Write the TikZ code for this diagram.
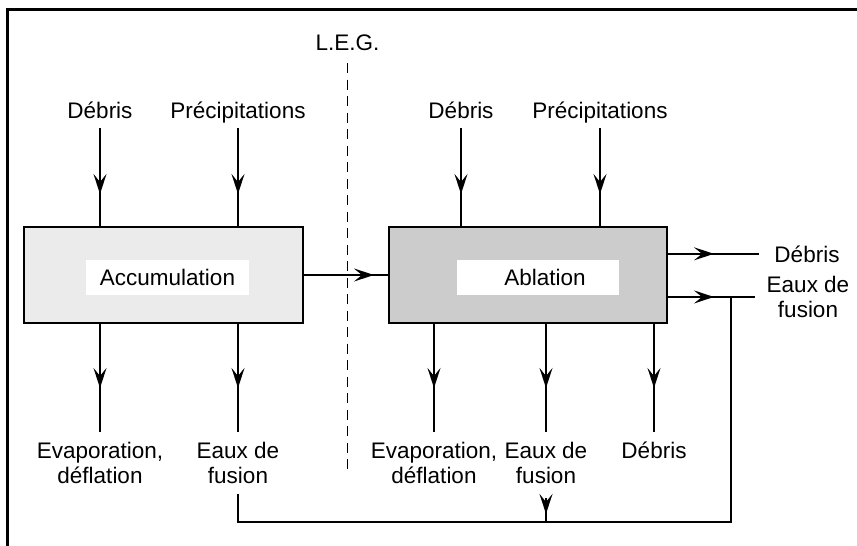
\documentclass[tikz,border=0pt]{standalone}
\usepackage{fontspec}
\setmainfont{Liberation Sans}
\usetikzlibrary{arrows.meta,decorations.markings,calc}
\begin{document}
\begin{tikzpicture}[x=1pt,y=-1pt,
  txtfont/.style={font=\fontsize{22.5}{25}\selectfont},
  lbl/.style={txtfont, inner sep=0pt, align=center},
  conn/.style={line width=2pt},
  mid/.style={conn, postaction={decorate}, decoration={markings, mark=at position #1 with {\arrow{Stealth[length=20pt,width=13pt,inset=8pt]}}}},
  procbox/.style={draw, line width=2pt, minimum width=279pt, minimum height=96pt, inner sep=0pt},
  labbox/.style={txtfont, fill=white, minimum width=163pt, minimum height=35pt, inner sep=0pt}]
\useasboundingbox (0,0) rectangle (857,546);
% frame
\draw[line width=2.5pt] (7.5,560) -- (7.5,9.5) -- (870,9.5);
% top labels
\node[lbl, anchor=base] (leg) at (347.5,50) {L.E.G.};
\node[lbl, anchor=base] (d1) at (100,118.5) {Débris};
\node[lbl, anchor=base] (p1) at (238,118.5) {Précipitations};
\node[lbl, anchor=base] (d2) at (461,118.5) {Débris};
\node[lbl, anchor=base] (p2) at (600,118.5) {Précipitations};
% boxes
\node[procbox, fill=black!8] (acc) at (163.5,275) {};
\node[labbox] (accl) at (167.5,277.5) {Accumulation};
\node[procbox, fill=black!20, minimum width=278pt] (abl) at (528,275) {};
\node[labbox, minimum width=162pt] (abll) at (538,277.5) {\hspace*{14pt}Ablation};
% bottom labels
\node[lbl, anchor=north] (e1) at (100,442) {Evaporation,\\déflation};
\node[lbl, anchor=north] (f1) at (238,442) {Eaux de\\fusion};
\node[lbl, anchor=north] (e2) at (434,442) {Evaporation,\\déflation};
\node[lbl, anchor=north] (f2) at (546,442) {Eaux de\\fusion};
\node[lbl, anchor=north] (d3) at (654,442) {Débris};
% right labels
\node[lbl, anchor=base] (dr) at (807,262) {Débris};
\node[lbl, anchor=north] (fr) at (808,276) {Eaux de\\fusion};
% dashed line
\draw[line width=1.8pt, dash pattern=on 10pt off 6.5pt] ([yshift=-13pt]leg.base) -- ++(0,410);
% inputs
\foreach \n in {d1,p1} \draw[mid=66pt] ([yshift=-9.5pt]\n.base) -- (\n |- acc.north);
\foreach \n in {d2,p2} \draw[mid=66pt] ([yshift=-9.5pt]\n.base) -- (\n |- abl.north);
% outputs down
\foreach \n in {e1,f1} \draw[mid=64pt] (acc.south -| \n) -- ([yshift=10pt]\n.north);
\foreach \n in {e2,f2,d3} \draw[mid=64pt] (abl.south -| \n) -- ([yshift=10pt]\n.north);
% accumulation -> ablation
\draw[mid=70pt] (acc.east) -- (abl.west);
% right outputs
\draw[mid=46pt] (abl.east |- dr.west) -- ([xshift=-15pt]dr.west);
\draw[mid=46pt] (abl.east |- fr.west) -- ([xshift=-12pt]fr.west);
\path (abl.east |- fr.west) ++(63,0) coordinate (j);
% return path
\draw[conn] ([yshift=-10pt]f1.south) -- ++(0,28) coordinate (bl) -| (j);
\draw[mid=16pt] ([yshift=-14pt]f2.south) -- (f2.south |- bl);
\end{tikzpicture}
\end{document}
